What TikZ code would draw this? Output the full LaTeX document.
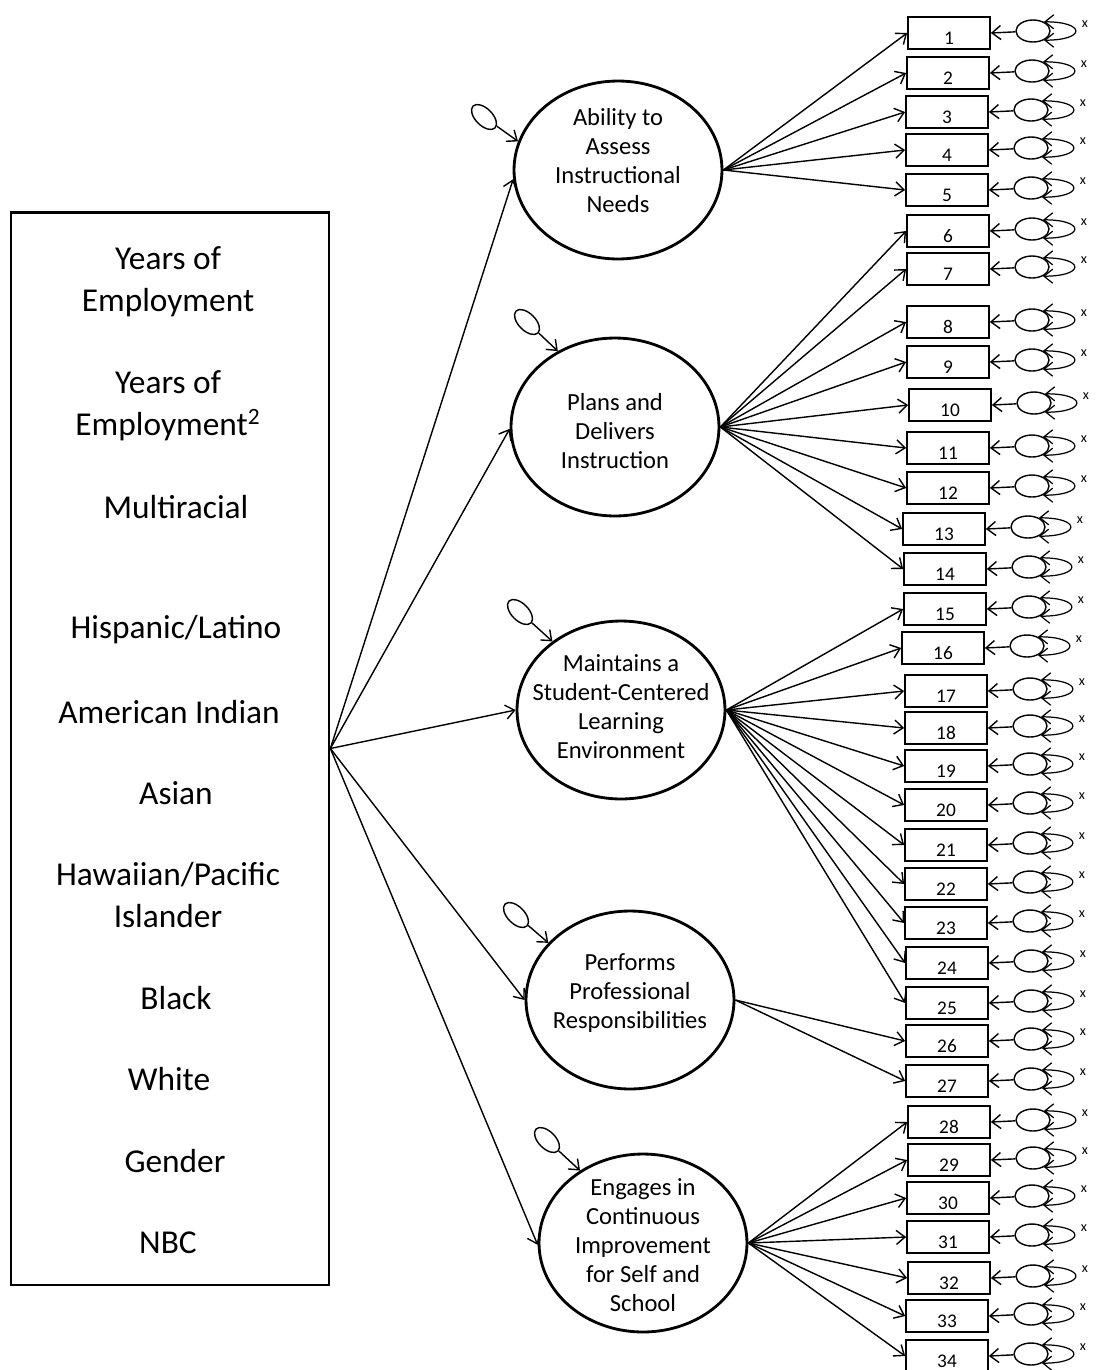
\documentclass[tikz,border=0pt]{standalone}
\usepackage{fontspec}
\setmainfont{Carlito}
\usetikzlibrary{arrows.meta,shapes.geometric}
\tikzset{
  semPath/.style={-{Straight Barb[length=5pt,width=8pt]}, line width=0.8pt},
  semLoop/.style={{Straight Barb[length=5pt,width=8pt]}-{Straight Barb[length=5pt,width=8pt]}, line width=0.7pt}
}

\begin{document}
\begin{tikzpicture}[x=0.02cm, y=-0.02cm,
        covbox/.style={draw, line width=1.6pt, minimum width=6.36cm, minimum height=21.46cm, inner sep=0pt},
        covname/.style={align=center, font=\fontsize{19}{24}\selectfont},
        factor/.style={draw, ellipse, line width=1.6pt, minimum width=4.16cm, minimum height=3.56cm, inner sep=0pt},
        factorname/.style={align=center, font=\fontsize{14}{16.5}\selectfont},
        distterm/.style={draw, ellipse, line width=0.8pt, minimum width=0.34cm, minimum height=0.62cm, inner sep=0pt, rotate=45},
        indicator/.style={draw, line width=1pt, minimum width=1.64cm, minimum height=0.64cm, inner sep=0pt, font=\fontsize{11}{13}\selectfont, text height=13.6pt, text depth=0pt},
        errterm/.style={draw, ellipse, line width=0.8pt, minimum width=0.68cm, minimum height=0.44cm, inner sep=0pt},
        errmark/.style={font=\fontsize{8}{9}\selectfont, inner sep=0pt}
      ]
      \useasboundingbox (0,0) rectangle (1098,1370);
      % covariates
      \node[covbox] (covars) at (170,748.5) {};
      \node[covname] (yrs) at (168,282) {Years of\\Employment};
      \node[covname] (yrssq) at (168,406) {Years of\\Employment\textsuperscript{2}};
      \node[covname] (multi) at (176,507) {Multiracial};
      \node[covname] (hisp) at (176,630) {Hispanic/Latino};
      \node[covname] (amind) at (169,712) {American Indian};
      \node[covname] (asian) at (176,793) {Asian};
      \node[covname] (hawaii) at (168,895) {Hawaiian/Pacific\\Islander};
      \node[covname] (black) at (176,998) {Black};
      \node[covname] (white) at (169,1079) {White};
      \node[covname] (gender) at (175,1161) {Gender};
      \node[covname] (nbc) at (168,1243) {NBC};
      % factors
      \node[factor] (f1) at (618,170) {};
      \node[factor] (f2) at (615,427) {};
      \node[factor] (f3) at (621,710) {};
      \node[factor] (f4) at (630,1000) {};
      \node[factor] (f5) at (643,1243) {};
      \node[factorname] (f1text) at (618,161) {Ability to\\Assess\\Instructional\\Needs};
      \node[factorname] (f2text) at (615,431) {Plans and\\Delivers\\Instruction};
      \node[factorname] (f3text) at (621,707) {Maintains a\\Student-Centered\\Learning\\Environment};
      \node[factorname] (f4text) at (630,993) {Performs\\Professional\\Responsibilities};
      \node[factorname] (f5text) at (643,1245) {Engages in\\Continuous\\Improvement\\for Self and\\School};
      % disturbances
      \node[distterm] (d1) at (484,117) {};
      \node[distterm] (d2) at (527,322) {};
      \node[distterm] (d3) at (520,612) {};
      \node[distterm] (d4) at (516,915) {};
      \node[distterm] (d5) at (547,1140) {};
      \draw[semPath] (d1) -- (f1.164);
      \draw[semPath] (d2) -- (f2.127);
      \draw[semPath] (d3) -- (f3.135);
      \draw[semPath] (d4) -- (f4.145);
      \draw[semPath] (d5) -- (f5.131);
      % covariates -> factors
      \draw[semPath] (covars.east) -- (f1.185);
      \draw[semPath] (covars.east) -- (f2.181);
      \draw[semPath] (covars.east) -- (f3.180);
      \draw[semPath] (covars.east) -- (f4.180);
      \draw[semPath] (covars.east) -- (f5.181);
      % indicators with error terms
      \foreach \n/\x/\y in {1/949/33, 2/948/73, 3/947/112, 4/947/150, 5/947/190,
          6/948/231, 7/948/269, 8/948/322, 9/948/362, 10/950/405, 11/948/448,
          12/948/488, 13/944/529, 14/945/569, 15/945/609, 16/943/648, 17/946/691,
          18/946/728, 19/946/766, 20/946/805, 21/946/845, 22/946/884, 23/946/923,
          24/947/963, 25/947/1003, 26/947/1041, 27/947/1081, 28/949/1122,
          29/949/1160, 30/948/1198, 31/948/1237, 32/949/1278, 33/947/1316, 34/947/1356} {
        \node[indicator] (b\n) at (\x,\y) {\n};
        \node[errterm] (e\n) at (\x+84,\y-2) {};
        \node[errmark] (x\n) at (\x+136,\y-9) {x};
        \draw[semPath] (e\n) -- (b\n.east);
        \draw[semLoop] (e\n.40) .. controls +(42,0) and +(42,0) .. (e\n.-40);
      }
      % loadings
      \foreach \n in {1,...,5} \draw[semPath] (f1.east) -- (b\n.west);
      \foreach \n in {6,...,14} \draw[semPath] (f2.east) -- (b\n.west);
      \foreach \n in {15,...,25} \draw[semPath] (f3.east) -- (b\n.west);
      \foreach \n in {26,27} \draw[semPath] (f4.east) -- (b\n.west);
      \foreach \n in {28,...,34} \draw[semPath] (f5.east) -- (b\n.west);
    \end{tikzpicture}
\end{document}
